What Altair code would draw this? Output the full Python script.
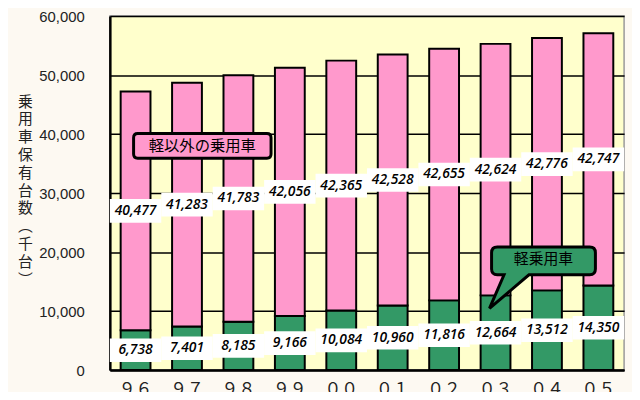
import altair as alt
import pandas as pd

# ---- data ----
years = ["９６", "９７", "９８", "９９", "００", "０１", "０２", "０３", "０４", "０５"]
kei = [6738, 7401, 8185, 9166, 10084, 10960, 11816, 12664, 13512, 14350]
other = [40477, 41283, 41783, 42056, 42365, 42528, 42655, 42624, 42776, 42747]
series_names = ["軽乗用車", "軽以外の乗用車"]
series_colors = ["#339966", "#FF99CC"]
y_ticks = [0, 10000, 20000, 30000, 40000, 50000, 60000]
y_title = "乗用車保有台数︵千台︶"

ann_texts = ["軽以外の乗用車", "軽乗用車"]
ann_years = ["９７", "０４"]
ann_values = [38000, 18500]

rows = []
for yr, k, o in zip(years, kei, other):
    rows.append(dict(year=yr, series=series_names[0], y0=0, y1=k, mid=k / 2, label=f"{k:,}"))
    rows.append(dict(year=yr, series=series_names[1], y0=k, y1=k + o, mid=k + o / 2, label=f"{o:,}"))
df = pd.DataFrame(rows)

ann1 = pd.DataFrame({"year": [ann_years[0]], "y": [ann_values[0]], "text": [ann_texts[0]]})
ann2 = pd.DataFrame({"year": [ann_years[1]], "y": [ann_values[1]], "text": [ann_texts[1]]})

xscale = alt.Scale(domain=years, paddingInner=0.42, paddingOuter=0.21)
yscale = alt.Scale(domain=[0, 60000])

xaxis = alt.Axis(title=None, labelAngle=0, labelFont="Noto Sans CJK JP",
                 labelFontSize=17, labelColor="#222", domainColor="black",
                 domainWidth=2.5, ticks=False, labelPadding=12)
yaxis = alt.Axis(title=list(y_title), titleAngle=0, titleX=-86, titleY=86,
                 titleAlign="center", titleBaseline="middle",
                 titleFont="Noto Sans CJK JP", titleFontSize=15,
                 titleFontWeight="normal", titleColor="#222",
                 titleLineHeight=18,
                 values=y_ticks, format=",d", gridColor="black", gridWidth=1.5,
                 gridOpacity=1, domainColor="black", domainWidth=2.5,
                 ticks=False, labelPadding=26, labelFontSize=15,
                 labelFont="Liberation Sans", labelColor="#222")


def X():
    return alt.X("year:N", scale=xscale, sort=years, axis=xaxis)


def Y(field):
    return alt.Y(field, scale=yscale, axis=yaxis)


bars = alt.Chart(df).mark_bar(stroke="black", strokeWidth=2).encode(
    x=X(),
    y=Y("y1:Q"),
    y2="y0:Q",
    color=alt.Color("series:N", scale=alt.Scale(domain=series_names, range=series_colors),
                    legend=None),
)

RECT = "M-1,-0.46L1,-0.46L1,0.46L-1,0.46Z"
boxes = alt.Chart(df).mark_point(shape=RECT, size=2704, filled=True, fill="white",
                                 opacity=1, strokeWidth=0).encode(
    x=X(), y=Y("mid:Q"),
)
labels = alt.Chart(df).mark_text(font="Open Sans", fontStyle="italic", fontWeight=600,
                                 fontSize=14, color="black").encode(
    x=X(), y=Y("mid:Q"), text="label:N",
)

BOX1 = ("M-0.94,-0.18L0.94,-0.18Q1,-0.18 1,-0.12L1,0.12Q1,0.18 0.94,0.18"
        "L-0.94,0.18Q-1,0.18 -1,0.12L-1,-0.12Q-1,-0.18 -0.94,-0.18Z")
BOX2 = ("M-0.89,-0.267L0.89,-0.267Q1,-0.267 1,-0.157L1,0.157Q1,0.267 0.89,0.267"
        "L-0.28,0.267L-1.04,0.914L-0.76,0.267L-0.89,0.267Q-1,0.267 -1,0.157"
        "L-1,-0.157Q-1,-0.267 -0.89,-0.267Z")

a1box = alt.Chart(ann1).mark_point(shape=BOX1, size=139 * 139, filled=True,
                                   fill=series_colors[1], stroke="black", strokeWidth=3,
                                   opacity=1, xOffset=15.5).encode(x=X(), y=Y("y:Q"))
a1text = alt.Chart(ann1).mark_text(font="Noto Sans CJK JP", fontSize=15.5, color="black",
                                   dx=15.5).encode(x=X(), y=Y("y:Q"), text="text:N")
a2box = alt.Chart(ann2).mark_point(shape=BOX2, size=105 * 105, filled=True,
                                   fill=series_colors[0], stroke="black", strokeWidth=3,
                                   opacity=1, xOffset=-3.5).encode(x=X(), y=Y("y:Q"))
a2text = alt.Chart(ann2).mark_text(font="Noto Sans CJK JP", fontSize=15, color="black",
                                   dx=-3.5, dy=-2).encode(x=X(), y=Y("y:Q"), text="text:N")

chart = alt.layer(bars, boxes, labels, a1box, a1text, a2box, a2text).properties(
    width=520, height=358, autosize="none",
    padding={"left": 103, "top": 6, "right": 8, "bottom": 20},
    background="#FDF9F2",
).configure_view(fill="#FFFFCC", stroke="#999999", strokeWidth=1.5)

chart.save("out.html", embed_options={"renderer": "svg", "actions": False})
